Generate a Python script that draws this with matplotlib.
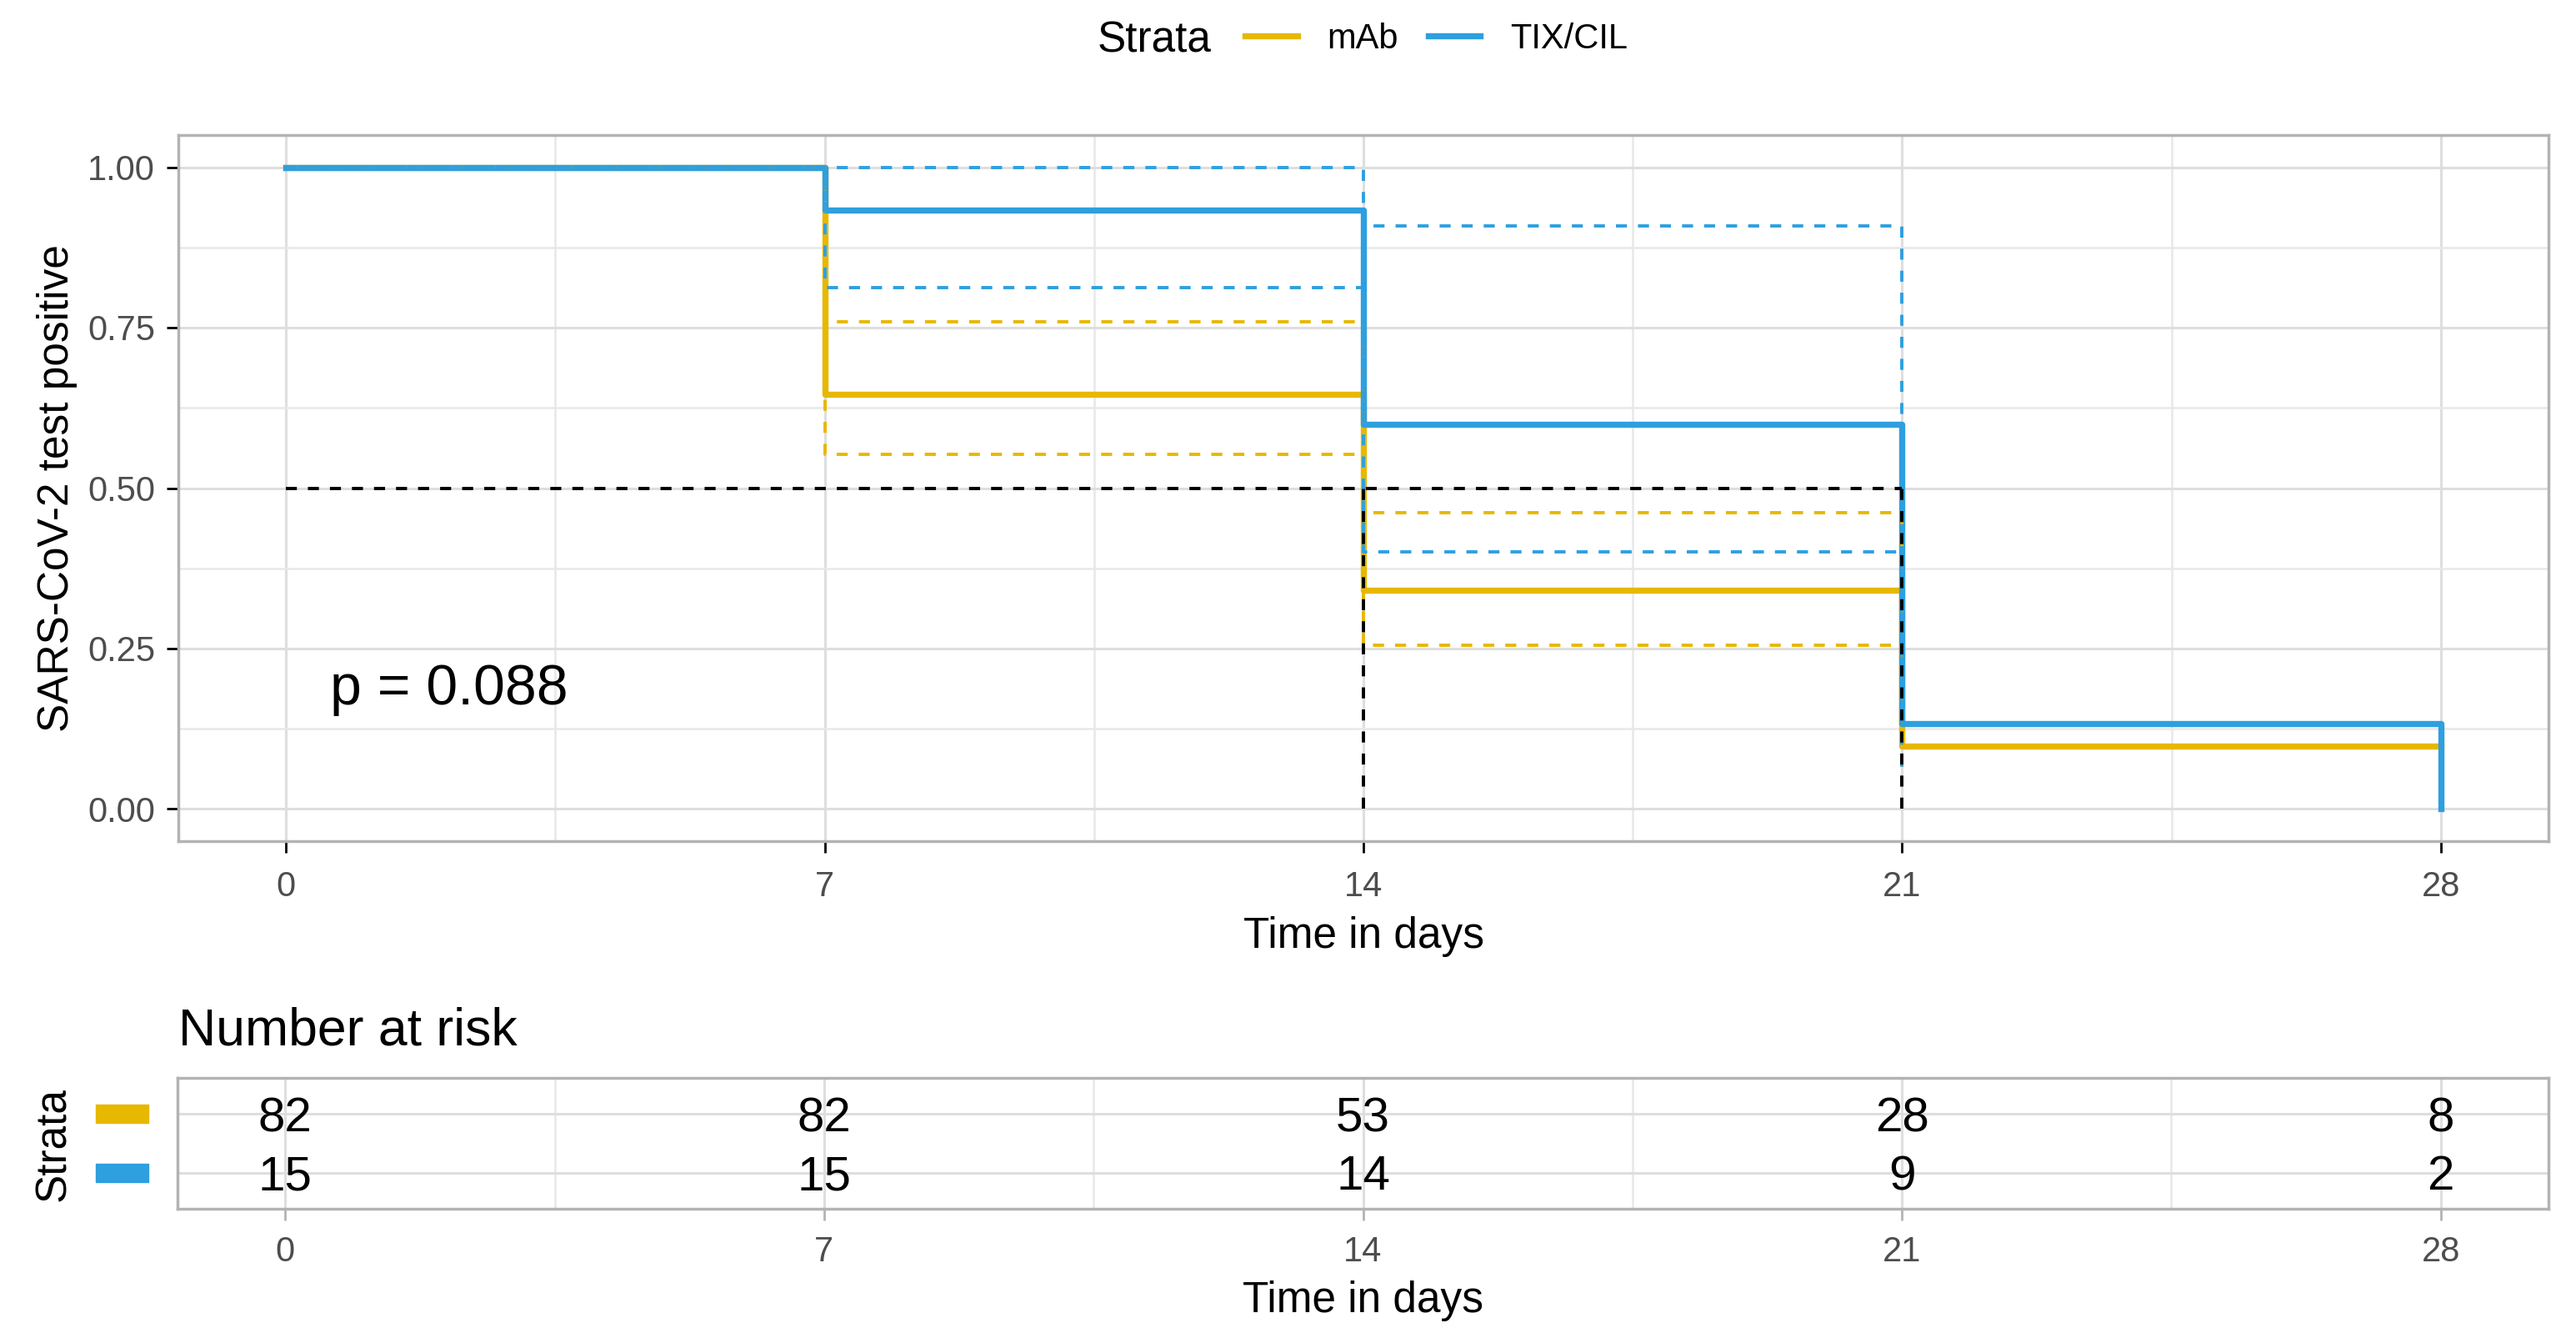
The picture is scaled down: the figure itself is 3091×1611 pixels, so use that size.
import matplotlib
matplotlib.use("Agg")
import matplotlib.pyplot as plt
from matplotlib.patches import Rectangle
from matplotlib.lines import Line2D
from matplotlib import transforms
import numpy as np

plt.rcParams['font.family'] = ['Liberation Sans', 'DejaVu Sans']

# Kaplan-Meier style step data
times = [0, 7, 14, 21, 28]
mab_surv = [1.0, 0.646, 0.341, 0.098, 0.098]
tix_surv = [1.0, 0.933, 0.600, 0.133, 0.0]

ci_times = [0, 7, 14, 21]
mab_upper = [1.0, 0.759, 0.462, 0.19]
mab_lower = [1.0, 0.552, 0.255, 0.05]
tix_upper = [1.0, 1.0, 0.908, 0.45]
tix_lower = [1.0, 0.812, 0.400, 0.036]

median_y = 0.5
median_times = [14, 21]

strata = ['mAb', 'TIX/CIL']
risk_mab = [82, 82, 53, 28, 8]
risk_tix = [15, 15, 14, 9, 2]

pval_text = 'p = 0.088'
yticks = [0.0, 0.25, 0.5, 0.75, 1.0]

YELLOW = '#E7B800'
BLUE = '#2E9FDF'
GRID = '#DEDEDE'
GRID_MINOR = '#E8E8E8'
BORDER = '#B3B3B3'
TICKTXT = '#4D4D4D'

W, H = 3091, 1611
fig = plt.figure(figsize=(W / 100, H / 100), dpi=100)

# ---- main survival panel ----
ax = fig.add_axes([214 / W, 1 - 1009 / H, (3058 - 214) / W, (1009 - 162) / H])
ax.set_xlim(-1.4, 29.4)
ax.set_ylim(-0.05, 1.05)
ax.set_xticks(times)
ax.set_xticks([3.5, 10.5, 17.5, 24.5], minor=True)
ax.set_yticks(yticks)
ax.set_yticks([0.125, 0.375, 0.625, 0.875], minor=True)
ax.set_yticklabels(['%.2f' % v for v in yticks])
ax.grid(which='major', color=GRID, lw=2.2)
ax.grid(which='minor', color=GRID_MINOR, lw=1.8)
ax.set_axisbelow(True)
for s in ax.spines.values():
    s.set_color(BORDER)
    s.set_linewidth(2.5)
ax.tick_params(which='major', length=10, width=2, color='black',
               labelsize=30, labelcolor=TICKTXT)
ax.tick_params(axis='x', pad=15)
ax.tick_params(axis='y', pad=10)
ax.tick_params(which='minor', length=0)

l_mab, = ax.plot(times, mab_surv, drawstyle='steps-post', color=YELLOW, lw=5.3)
l_tix, = ax.plot(times, tix_surv, drawstyle='steps-post', color=BLUE, lw=5.3)

dash = (0, (3.4, 3.4))
for vals, col in [(mab_upper, YELLOW), (mab_lower, YELLOW),
                  (tix_upper, BLUE), (tix_lower, BLUE)]:
    ax.plot(ci_times, vals, drawstyle='steps-post', color=col, lw=2.8, linestyle=dash)

# median lines
ax.plot([0, max(median_times)], [median_y, median_y], color='black', lw=2.8, linestyle=dash)
for t in median_times:
    ax.plot([t, t], [0, median_y], color='black', lw=2.8, linestyle=dash)

ax.text(0.57, 0.187, pval_text, fontsize=49, ha='left', va='center')

ax.set_xlabel('Time in days', fontsize=37)
ax.xaxis.set_label_coords(0.5, -0.106)
ax.set_ylabel('SARS-CoV-2 test positive', fontsize=37)
ax.yaxis.set_label_coords(-0.0425, 0.5)

# ---- top legend ----
fig.text(1317 / W, 1 - 49 / H, 'Strata', fontsize=37, ha='left', va='center')
fig.legend(handles=[Line2D([], [], color=YELLOW, lw=5.3), Line2D([], [], color=BLUE, lw=5.3)],
           labels=strata, ncol=2, loc='center left', bbox_to_anchor=(1494 / W, 1 - 47 / H),
           frameon=False, fontsize=30, handlelength=1.5, handletextpad=0.86,
           columnspacing=0.86, borderpad=0, borderaxespad=0)

# ---- risk table ----
ax2 = fig.add_axes([213 / W, 1 - 1450 / H, (3058 - 213) / W, (1450 - 1293) / H])
ax2.set_xlim(-1.4, 29.4)
ax2.set_ylim(0.38, 2.62)
ax2.set_xticks(times)
ax2.set_xticks([3.5, 10.5, 17.5, 24.5], minor=True)
ax2.set_yticks([1, 2])
ax2.set_yticklabels(['', ''])
ax2.grid(which='major', color=GRID, lw=2.2)
ax2.grid(which='minor', axis='x', color=GRID_MINOR, lw=1.8)
ax2.set_axisbelow(True)
for s in ax2.spines.values():
    s.set_color(BORDER)
    s.set_linewidth(2.5)
ax2.tick_params(axis='x', which='major', length=10, width=2, color=BORDER,
                labelsize=30, labelcolor=TICKTXT, pad=13)
ax2.tick_params(axis='y', length=0)
ax2.tick_params(which='minor', length=0)

num_tr = transforms.offset_copy(ax2.transData, fig=fig, x=0, y=-15, units='points')
for t, n in zip(times, risk_mab):
    ax2.text(t, 2, str(n), fontsize=42, ha='center', va='baseline', transform=num_tr)
for t, n in zip(times, risk_tix):
    ax2.text(t, 1, str(n), fontsize=42, ha='center', va='baseline', transform=num_tr)

ax2.set_xlabel('Time in days', fontsize=37)
ax2.xaxis.set_label_coords(0.5, -0.55)

fig.text(214 / W, 1 - 1253 / H, 'Number at risk', fontsize=45, ha='left', va='baseline')
fig.text(65 / W, 1 - 1373 / H, 'Strata', fontsize=37, rotation=90, ha='center', va='center')

key_tr = transforms.blended_transform_factory(fig.transFigure, ax2.transData)
for row, col in [(2, YELLOW), (1, BLUE)]:
    fig.add_artist(Rectangle((115 / W, row - 0.157), 63 / W, 0.314,
                             transform=key_tr, color=col, clip_on=False))

fig.savefig('out.png', dpi=100)
